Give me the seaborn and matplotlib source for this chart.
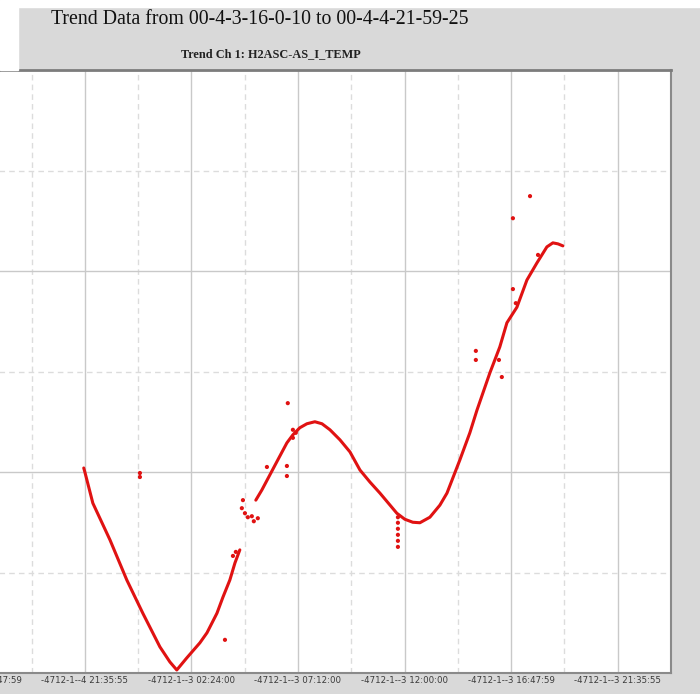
import matplotlib
matplotlib.use("Agg")
import matplotlib.pyplot as plt
from matplotlib.patches import Rectangle
import seaborn as sns
import pandas as pd

# Trend channel H2ASC-AS_I_TEMP, hours after the -4 21:35:55 tick
fall_hours = [-0.05, 0.00, 0.36, 1.13, 1.89, 2.61, 3.38, 3.83, 4.14, 4.59, 5.18,
              5.50, 5.95, 6.22, 6.53, 6.76, 6.98]
fall_temp = [20.08, 20.00, 19.38, 18.65, 17.85, 17.19, 16.52, 16.22, 16.06, 16.30,
             16.60, 16.80, 17.19, 17.51, 17.85, 18.19, 18.45]

rise_hours = [7.70, 7.97, 8.33, 8.69, 9.10, 9.37, 9.68, 10.00, 10.36, 10.68, 11.04,
              11.49, 11.94, 12.39, 12.84, 13.29, 14.05, 14.41, 14.77, 15.09, 15.54,
              15.99, 16.31, 16.89, 17.34, 17.66, 18.24, 18.69, 19.01, 19.46, 19.91,
              20.36, 20.81, 21.08, 21.31, 21.53]
rise_temp = [19.44, 19.64, 19.94, 20.24, 20.58, 20.74, 20.88, 20.96, 21.00, 20.96,
             20.84, 20.64, 20.40, 20.04, 19.80, 19.58, 19.18, 19.06, 19.00, 18.99,
             19.10, 19.34, 19.58, 20.24, 20.78, 21.23, 21.97, 22.49, 22.97, 23.28,
             23.82, 24.16, 24.48, 24.56, 24.54, 24.50]

# isolated samples away from the main trace
stray_hours = [2.48, 2.48, 6.31, 6.67, 6.80, 7.07, 7.12, 7.21, 7.34, 7.52, 7.61,
               7.79, 8.20, 9.10, 9.10, 9.14, 9.37, 9.37, 9.50, 14.10, 14.10, 14.10,
               14.10, 14.10, 14.10, 17.61, 17.61, 18.65, 18.78, 19.28, 19.28, 19.41,
               20.05, 20.41]
stray_temp = [19.98, 19.90, 16.66, 18.33, 18.41, 19.28, 19.44, 19.18, 19.10, 19.12,
              19.02, 19.08, 20.10, 20.12, 19.92, 21.37, 20.84, 20.68, 20.78, 19.10,
              18.99, 18.87, 18.75, 18.63, 18.51, 22.41, 22.23, 22.23, 21.89, 25.05,
              23.64, 23.36, 25.49, 24.32]

tick_hours = [-4.8, 0.0, 4.8, 9.6, 14.4, 19.2, 24.0]
tick_labels = ["-4712-1--4 16:47:59", "-4712-1--4 21:35:55", "-4712-1--3 02:24:00",
               "-4712-1--3 07:12:00", "-4712-1--3 12:00:00", "-4712-1--3 16:47:59",
               "-4712-1--3 21:35:55"]

TITLE = "Trend Data from 00-4-3-16-0-10 to 00-4-4-21-59-25"
SUBTITLE = "Trend Ch 1: H2ASC-AS_I_TEMP"

sns.set_theme(style="white")
W, H = 700, 694
panel = "#d9d9d9"
red = "#e01212"

fig = plt.figure(figsize=(W / 100, H / 100), dpi=100, facecolor=panel)
# plot area in pixel terms: left edge runs past the canvas
left, right, top, bottom = -75, 671, 70, 673
ax = fig.add_axes([left / W, (H - bottom) / H, (right - left) / W, (bottom - top) / H])
ax.set_facecolor("white")

fall = pd.DataFrame({"hours": fall_hours, "temp": fall_temp})
rise = pd.DataFrame({"hours": rise_hours, "temp": rise_temp})
stray = pd.DataFrame({"hours": stray_hours, "temp": stray_temp})

for seg in (fall, rise):
    sns.lineplot(data=seg, x="hours", y="temp", ax=ax, color=red, lw=2.2,
                 sort=False, estimator=None, zorder=3)
sns.scatterplot(data=stray, x="hours", y="temp", ax=ax, color=red, s=9,
                edgecolor="none", zorder=3)

ax.set_xlim(-7.2, 26.4)
ax.set_ylim(16, 28)
ax.set_xticks(tick_hours)
ax.set_xticks([h + 2.4 for h in tick_hours], minor=True)
ax.set_xticklabels(tick_labels, fontsize=6.2, color="#3a3a3a")
ax.set_yticks([16, 20, 24, 28])
ax.set_yticks([18, 22, 26], minor=True)
ax.tick_params(axis="y", labelleft=False, length=0, which="both")
ax.tick_params(axis="x", length=0, pad=2.5, which="both")
ax.set_xlabel("")
ax.set_ylabel("")

ax.grid(which="major", color="#c9c9c9", lw=1.0, ls="-")
ax.grid(which="minor", color="#dcdcdc", lw=1.0, ls=(0, (4, 3)))
ax.set_axisbelow(True)

ax.spines["left"].set_visible(False)
ax.spines["top"].set_color("#7c7c7c")
ax.spines["top"].set_linewidth(2.0)
ax.spines["right"].set_color("#8a8a8a")
ax.spines["right"].set_linewidth(1.5)
ax.spines["bottom"].set_color("#8a8a8a")
ax.spines["bottom"].set_linewidth(1.5)

# page margin above and to the left of the header band
fig.patches.append(Rectangle((0, (H - 7) / H), 1, 7 / H, transform=fig.transFigure,
                             color="white", zorder=0))
fig.patches.append(Rectangle((0, (H - top) / H), 18 / W, top / H,
                             transform=fig.transFigure, color="white", zorder=0))

fig.text(51 / W, 1 - 20 / H, TITLE, ha="left", va="center", fontsize=14.3,
         family="Liberation Serif", color="#111111")
fig.text(271 / W, 1 - 54 / H, SUBTITLE, ha="center", va="center", fontsize=8.8,
         family="Liberation Serif", weight="bold", color="#222222")

fig.savefig("out.png", dpi=100, facecolor=panel)
